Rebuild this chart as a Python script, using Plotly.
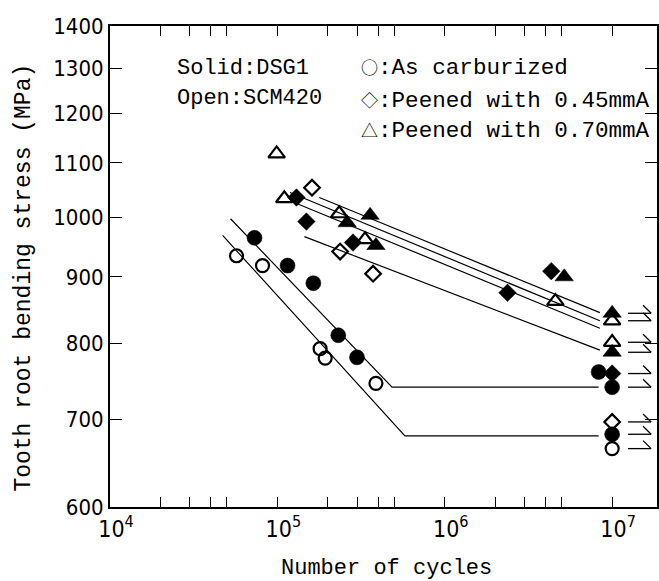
import math
import plotly.graph_objects as go

# ---------------- data (cycles, stress in MPa) ----------------
# Solid symbols: DSG1, open symbols: SCM420
dsg1_carb_N = [7.3e4, 1.15e5, 1.64e5, 2.31e5, 2.99e5, 8.3e6]
dsg1_carb_S = [964, 918, 890, 812, 781, 761]
dsg1_carb_runout_S = [741, 682]

dsg1_p045_N = [1.30e5, 1.49e5, 2.83e5, 2.37e6, 4.33e6]
dsg1_p045_S = [1035, 992, 956, 875, 909]
dsg1_p045_runout_S = [759]

dsg1_p070_N = [2.61e5, 3.58e5, 3.88e5, 5.17e6]
dsg1_p070_S = [990, 1003, 951, 900]
dsg1_p070_runout_S = [844, 788]

scm_carb_N = [5.7e4, 8.15e4, 1.80e5, 1.93e5, 3.88e5]
scm_carb_S = [934, 918, 793, 780, 746]
scm_carb_runout_S = [665]

scm_p045_N = [1.61e5, 2.37e5, 3.73e5]
scm_p045_S = [1053, 941, 905]
scm_p045_runout_S = [697]

scm_p070_N = [9.9e4, 1.10e5, 2.34e5, 3.34e5, 4.58e6]
scm_p070_S = [1118, 1033, 1006, 961, 862]
scm_p070_runout_S = [833, 802]

runout_N = 1e7

# fitted S-N lines
fit_dsg1_carb_N = [5.25e4, 4.84e5, 8.3e6]
fit_dsg1_carb_S = [997, 741, 741]
fit_scm_carb_N = [4.71e4, 5.78e5, 8.3e6]
fit_scm_carb_S = [968, 680, 680]
fit_peen_a_N = [1.78e5, 8.45e6]
fit_peen_a_S = [1035, 845]
fit_peen_b_N = [1.19e5, 8.45e6]
fit_peen_b_S = [1044, 833]
fit_peen_c_N = [1.26e5, 8.45e6]
fit_peen_c_S = [1026, 822]
fit_peen_d_N = [1.45e5, 8.45e6]
fit_peen_d_S = [966, 791]

x_tick_vals = [1e4, 1e5, 1e6, 1e7]
x_tick_text = ["10<sup>4</sup>", "10<sup>5</sup>", "10<sup>6</sup>", "10<sup>7</sup>"]
x_minor_vals = [m * 10 ** e for e in range(4, 8) for m in (2, 3, 4, 5)]
y_tick_vals = [600, 700, 800, 900, 1000, 1100, 1200, 1300, 1400]

TICK_FONT = "DejaVu Sans Condensed, DejaVu Sans, sans-serif"
MONO_FONT = "Liberation Mono, DejaVu Sans Mono, monospace"
SYM = '<span style="font-family:Noto Sans CJK JP;font-size:17px">{}</span>'

fig = go.Figure()

# fitted lines
for xs, ys in [(fit_dsg1_carb_N, fit_dsg1_carb_S), (fit_scm_carb_N, fit_scm_carb_S),
               (fit_peen_a_N, fit_peen_a_S), (fit_peen_b_N, fit_peen_b_S),
               (fit_peen_c_N, fit_peen_c_S), (fit_peen_d_N, fit_peen_d_S)]:
    fig.add_trace(go.Scatter(x=xs, y=ys, mode="lines",
                             line=dict(color="black", width=1.2), hoverinfo="skip"))

# run-out arrows (half arrowhead) to the right of run-out points
all_runouts = (dsg1_carb_runout_S + dsg1_p045_runout_S + dsg1_p070_runout_S +
               scm_carb_runout_S + scm_p045_runout_S + scm_p070_runout_S)
ax, ay = [], []
for s in all_runouts:
    ax += [runout_N * 1.245, runout_N * 1.71, None, runout_N * 1.53, runout_N * 1.71, None]
    ay += [s, s, None, s * 1.0142, s, None]
fig.add_trace(go.Scatter(x=ax, y=ay, mode="lines",
                         line=dict(color="black", width=1.3), hoverinfo="skip"))


def add_series(N, S, runout_S, symbol, size, filled):
    xs = list(N) + [runout_N] * len(runout_S)
    ys = list(S) + list(runout_S)
    if filled:
        marker = dict(symbol=symbol, size=size, color="black",
                      line=dict(color="black", width=0.5))
    else:
        marker = dict(symbol=symbol + "-open", size=size, color="black",
                      line=dict(color="black", width=2.2))
    fig.add_trace(go.Scatter(x=xs, y=ys, mode="markers", marker=marker))


add_series(scm_carb_N, scm_carb_S, scm_carb_runout_S, "circle", 13, False)
add_series(scm_p045_N, scm_p045_S, scm_p045_runout_S, "diamond", 12, False)
add_series(scm_p070_N, scm_p070_S, scm_p070_runout_S, "triangle-up", 14.5, False)
add_series(dsg1_carb_N, dsg1_carb_S, dsg1_carb_runout_S, "circle", 15, True)
add_series(dsg1_p045_N, dsg1_p045_S, dsg1_p045_runout_S, "diamond", 13.5, True)
add_series(dsg1_p070_N, dsg1_p070_S, dsg1_p070_runout_S, "triangle-up", 16, True)

fig.update_xaxes(type="log", range=[4, 7.268],
                 tickvals=x_tick_vals, ticktext=x_tick_text,
                 ticks="inside", ticklen=10, tickwidth=1.3, tickcolor="black",
                 ticklabelshift=6,
                 showline=True, linewidth=2, linecolor="black", mirror="allticks",
                 showgrid=False, zeroline=False,
                 minor=dict(tickvals=x_minor_vals, ticks="inside", ticklen=10,
                            tickwidth=1.2, tickcolor="black", showgrid=False),
                 tickfont=dict(family=TICK_FONT, size=23, color="black"))
fig.update_yaxes(type="log", range=[math.log10(600), math.log10(1400)],
                 tickvals=y_tick_vals, ticktext=[str(v) for v in y_tick_vals],
                 ticks="inside", ticklen=12, tickwidth=1.3, tickcolor="black",
                 showline=True, linewidth=2, linecolor="black", mirror="allticks",
                 showgrid=False, zeroline=False,
                 tickfont=dict(family=TICK_FONT, size=22, color="black"))

annots = [
    dict(text="Number of cycles", x=0.506, y=-0.127, xanchor="center", yanchor="middle",
         font=dict(family=MONO_FONT, size=22, color="black")),
    dict(text="Tooth root bending stress (MPa)", x=-0.158, y=0.476, textangle=-90,
         xanchor="center", yanchor="middle",
         font=dict(family=MONO_FONT, size=23, color="black")),
    dict(text="Solid:DSG1", x=0.118, y=0.911, xanchor="left", yanchor="middle",
         font=dict(family=MONO_FONT, size=22, color="black")),
    dict(text="Open:SCM420", x=0.118, y=0.850, xanchor="left", yanchor="middle",
         font=dict(family=MONO_FONT, size=22, color="black")),
    dict(text=SYM.format("○") + ":As carburized", x=0.455, y=0.913,
         xanchor="left", yanchor="middle",
         font=dict(family=MONO_FONT, size=22.6, color="black")),
    dict(text=SYM.format("◇") + ":Peened with 0.45mmA", x=0.455, y=0.846,
         xanchor="left", yanchor="middle",
         font=dict(family=MONO_FONT, size=22.6, color="black")),
    dict(text=SYM.format("△") + ":Peened with 0.70mmA", x=0.455, y=0.782,
         xanchor="left", yanchor="middle",
         font=dict(family=MONO_FONT, size=22.6, color="black")),
]
for a in annots:
    a.update(xref="paper", yref="paper", showarrow=False)
fig.update_layout(annotations=annots)

fig.update_layout(width=659, height=581, margin=dict(l=110, r=0, t=26, b=74),
                  plot_bgcolor="white", paper_bgcolor="white", showlegend=False)

fig.write_html("out.html")
